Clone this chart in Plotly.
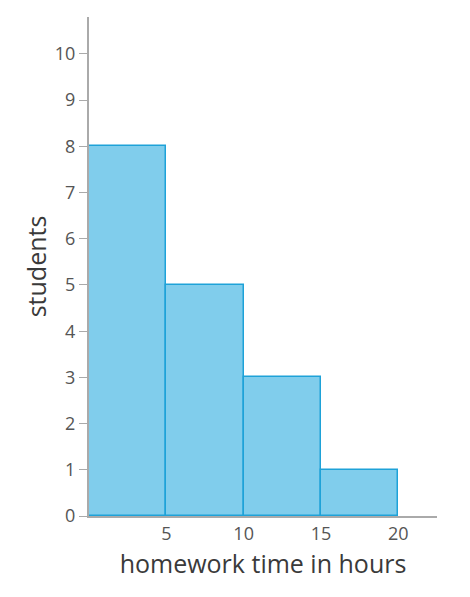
import plotly.graph_objects as go

bin_starts = [0, 5, 10, 15]
bin_width = 5
students = [8, 5, 3, 1]
x_ticks = [5, 10, 15, 20]
y_ticks = list(range(0, 11))

fig = go.Figure()
fig.add_trace(go.Bar(
    x=[s + bin_width / 2 for s in bin_starts],
    y=students,
    width=[bin_width] * len(students),
    marker=dict(color="#80cdec", line=dict(color="#1ea2d8", width=1.5)),
    showlegend=False,
))

fig.update_layout(
    width=470, height=597,
    margin=dict(l=81, r=41, t=9, b=89),
    plot_bgcolor="white", paper_bgcolor="white",
    bargap=0,
    font=dict(family="Open Sans", size=18, color="#555"),
    xaxis=dict(range=[0, 22.5], tickvals=x_ticks, showgrid=False, zeroline=False,
               showline=True, linecolor="#aaa", linewidth=2, ticks="",
               title=dict(text="homework time in hours", font=dict(size=25, color="#3a3a3a"), standoff=12),
               tickfont=dict(size=18, color="#555")),
    yaxis=dict(range=[0, 10.8], tickvals=y_ticks, showgrid=False, zeroline=False,
               showline=True, linecolor="#aaa", linewidth=2, ticks="outside",
               ticklen=8, tickcolor="#aaa",
               title=dict(text="students", font=dict(size=25, color="#3a3a3a"), standoff=1),
               tickfont=dict(size=18, color="#555")),
)
fig.write_html("out.html")
